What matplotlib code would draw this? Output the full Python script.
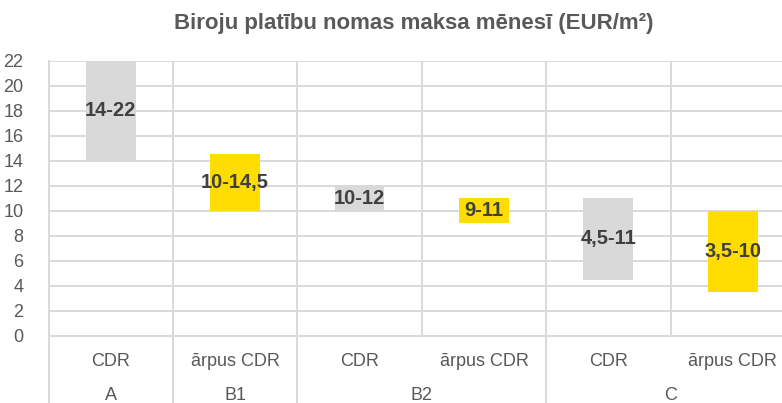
import matplotlib
matplotlib.use("Agg")
import matplotlib.pyplot as plt
import matplotlib.transforms as mtransforms

# range bars: lower and upper rent per category
categories = ["CDR", "ārpus CDR", "CDR", "ārpus CDR", "CDR", "ārpus CDR"]
low = [14, 10, 10, 9, 4.5, 3.5]
high = [22, 14.5, 12, 11, 11, 10]
labels = ["14-22", "10-14,5", "10-12", "9-11", "4,5-11", "3,5-10"]
colors = ["#D9D9D9", "#FFDD00", "#D9D9D9", "#FFDD00", "#D9D9D9", "#FFDD00"]

# group labels: (name, first index, last index)
groups = [("A", 0, 0), ("B1", 1, 1), ("B2", 2, 3), ("C", 4, 5)]

plt.rcParams['font.family'] = ['Liberation Sans', 'DejaVu Sans']
grid_col = "#D9D9D9"
txt_col = "#595959"

fig = plt.figure(figsize=(7.82, 4.03), dpi=100)
ax = fig.add_axes([48.5 / 782, 67 / 403, 746.5 / 782, 275.5 / 403])

x = list(range(len(categories)))
heights = [h - l for l, h in zip(low, high)]
ax.bar(x, heights, bottom=low, width=0.4, color=colors, zorder=3)

for xi, l, h, lab in zip(x, low, high, labels):
    ax.text(xi, (l + h) / 2, lab, ha="center", va="center",
            fontsize=14.5, fontweight="bold", color="#404040", zorder=4)

ax.set_xlim(-0.5, len(categories) - 0.5)
ax.set_ylim(0, 22)
ax.set_yticks(range(0, 23, 2))
ax.set_xticks(x)
ax.set_xticklabels(categories)
ax.set_xticks([i + 0.5 for i in range(-1, len(categories))], minor=True)

ax.tick_params(axis="y", length=0, pad=18, labelsize=13, labelcolor=txt_col)
ax.tick_params(axis="x", which="both", length=0, pad=12, labelsize=13, labelcolor=txt_col)

ax.grid(axis="y", color=grid_col, linewidth=1.4, zorder=0)
ax.grid(axis="x", which="minor", color=grid_col, linewidth=1.4, zorder=0)
ax.grid(axis="x", which="major", visible=False)
for side in ["top", "right"]:
    ax.spines[side].set_visible(False)
for side in ["left", "bottom"]:
    ax.spines[side].set_color(grid_col)
    ax.spines[side].set_linewidth(1.4)

# group labels and separators under the axis (cut off at the bottom, as in the source)
trans = mtransforms.blended_transform_factory(ax.transData, ax.transAxes)
for name, a, b in groups:
    ax.text((a + b) / 2, -0.215, name, transform=trans, ha="center", va="center",
            fontsize=13, color=txt_col)
bounds = sorted(set([g[1] - 0.5 for g in groups] + [groups[-1][2] + 0.5]))
for bx in bounds:
    ax.plot([bx, bx], [0, -0.3], transform=trans, color=grid_col,
            linewidth=1.4, clip_on=False)

fig.text(414 / 782, 1 - 23 / 403, "Biroju platību nomas maksa mēnesī (EUR/m²)",
         ha="center", va="center", fontsize=16, fontweight="bold", color=txt_col)

fig.savefig("out.png", dpi=100)
